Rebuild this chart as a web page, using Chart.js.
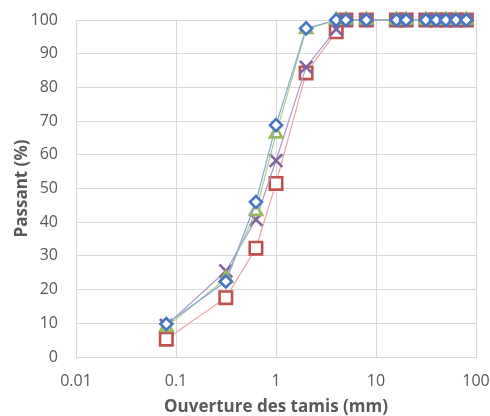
<!DOCTYPE html>
<html>
<head>
<meta charset="utf-8">
<script src="https://cdn.jsdelivr.net/npm/chart.js@4"></script>
<style>
html,body{margin:0;padding:0;background:#fff;}
#wrap{width:490px;height:416px;position:relative;}
</style>
</head>
<body>
<div id="wrap"><canvas id="c" width="490" height="416"></canvas></div>
<script>
const sieveSizes = [0.08, 0.315, 0.63, 1, 2, 4, 5, 8, 16, 20, 31.5, 40, 50, 63, 80];
const seriesBlue   = [9.8, 22.4, 46.0, 68.8, 97.5, 100, 100, 100, 100, 100, 100, 100, 100, 100, 100];
const seriesGreen  = [8.8, 23.3, 43.2, 66.2, 97.2, 100, 100, 100, 100, 100, 100, 100, 100, 100, 100];
const seriesPurple = [9.4, 25.5, 40.8, 58.3, 86.0, 97.3, 100, 100, 100, 100, 100, 100, 100, 100, 100];
const seriesRed    = [5.3, 17.6, 32.3, 51.5, 84.3, 96.5, 100, 100, 100, 100, 100, 100, 100, 100, 100];
const xTickValues = [0.01, 0.1, 1, 10, 100];
const xTickLabels = ['0.01', '0.1', '1', '10', '100'];
const xTitle = 'Ouverture des tamis (mm)';
const yTitle = 'Passant (%)';

function pts(ys){ return sieveSizes.map((x,i)=>({x:x, y:ys[i]})); }

const FONT = "'Open Sans', sans-serif";
const TXT = '#595959';

new Chart(document.getElementById('c'), {
  type: 'scatter',
  data: {
    datasets: [
      {data: pts(seriesBlue), showLine:true, clip:false, borderColor:'#86a6d0', borderWidth:1.2,
       pointStyle:'rectRot', pointRadius:6, pointBorderColor:'#4675c2', pointBackgroundColor:'#ffffff', pointBorderWidth:2.6},
      {data: pts(seriesGreen), showLine:true, clip:false, borderColor:'#aacb88', borderWidth:1.2,
       pointStyle:'triangle', pointRadius:7, pointBorderColor:'#9bbb59', pointBackgroundColor:'#ffffff', pointBorderWidth:2.6},
      {data: pts(seriesPurple), showLine:true, clip:false, borderColor:'#a998c9', borderWidth:1.2,
       pointStyle:'crossRot', pointRadius:9, pointBorderColor:'#8064a2', pointBackgroundColor:'#ffffff', pointBorderWidth:2.6},
      {data: pts(seriesRed), showLine:true, clip:false, borderColor:'#e7a3a2', borderWidth:1.2,
       pointStyle:'rect', pointRadius:8.8, pointBorderColor:'#c0504d', pointBackgroundColor:'#ffffff', pointBorderWidth:2.6}
    ]
  },
  options: {
    responsive:false,
    animation:false,
    events:[],
    layout:{padding:{top:20,right:14,left:0,bottom:0}},
    plugins:{legend:{display:false}, tooltip:{enabled:false}},
    scales:{
      x:{
        type:'logarithmic', min:0.01, max:100,
        afterBuildTicks:(s)=>{ s.ticks = xTickValues.map(v=>({value:v})); },
        afterFit:(s)=>{ s.height = 59; s.paddingLeft = 0; s.paddingRight = 0; },
        ticks:{color:TXT, font:{family:FONT,size:16}, padding:15, maxRotation:0,
          callback:(v)=>{ const i = xTickValues.indexOf(v); return i>=0 ? xTickLabels[i] : ''; }},
        grid:{color:'#d9d9d9', drawTicks:false, lineWidth:1},
        border:{color:'#d9d9d9'},
        title:{display:true, text:xTitle, color:TXT, font:{family:FONT,size:17,weight:'bold',lineHeight:1}, padding:{top:0,bottom:0}}
      },
      y:{
        min:0, max:100,
        afterFit:(s)=>{ s.width = 76; s.paddingTop = 0; s.paddingBottom = 0; },
        ticks:{stepSize:10, color:TXT, font:{family:FONT,size:16}, padding:18},
        grid:{color:'#d9d9d9', drawTicks:false, lineWidth:1},
        border:{color:'#d9d9d9'},
        title:{display:true, text:yTitle, color:TXT, font:{family:FONT,size:17,weight:'bold',lineHeight:1.2}, padding:{top:12,bottom:0}}
      }
    }
  }
});
</script>
</body>
</html>
